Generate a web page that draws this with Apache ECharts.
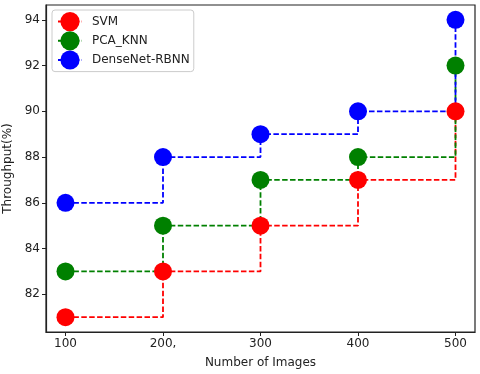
<!DOCTYPE html>
<html>
<head>
<meta charset="utf-8">
<script src="https://cdn.jsdelivr.net/npm/echarts@6/dist/echarts.min.js"></script>
<style>
  html, body { margin: 0; padding: 0; background: #fff; }
  #main { width: 480px; height: 374px; }
</style>
</head>
<body>
<div id="main"></div>
<script>
// data
var xValues = [100, 200, 300, 400, 500];
var xTickLabels = ["100", "200,", "300", "400", "500"];
var yTicks = [82, 84, 86, 88, 90, 92, 94];
var svm = [81, 83, 85, 87, 90];
var pcaKnn = [83, 85, 87, 88, 92];
var denseNet = [86, 88, 89, 90, 94];

function pairs(ys) {
  return xValues.map(function (x, i) { return [x, ys[i]]; });
}

function stepSeries(name, ys, color) {
  return {
    name: name,
    type: "line",
    step: "end",
    data: pairs(ys),
    symbol: "circle",
    symbolSize: 18,
    color: color,
    itemStyle: { color: color },
    lineStyle: { color: color, width: 1.8, type: [5.5, 2.4] },
    animation: false
  };
}

var font = "DejaVu Sans";
var options = {
  backgroundColor: "#fff",
  textStyle: { fontFamily: font },
  grid: {
    left: 46, right: 5, top: 5, bottom: 42,
    outerBoundsMode: "none", containLabel: false,
    show: true, borderColor: "#222", borderWidth: 1.2
  },
  legend: {
    left: 52, top: 10,
    orient: "vertical",
    padding: [2, 4, 2, 5],
    itemGap: 0,
    itemWidth: 24,
    itemHeight: 24,
    borderColor: "#ccc",
    borderWidth: 1,
    borderRadius: 3,
    backgroundColor: "rgba(255,255,255,0.8)",
    textStyle: { fontFamily: font, fontSize: 12, color: "#222", padding: [0, 0, 0, 5] },
    data: ["SVM", "PCA_KNN", "DenseNet-RBNN"]
  },
  xAxis: {
    type: "value",
    min: 80, max: 520,
    name: "Number of Images",
    nameLocation: "middle",
    nameGap: 25,
    nameTextStyle: { fontFamily: font, fontSize: 12, color: "#222" },
    splitLine: { show: false },
    axisLine: { show: true, onZero: false, lineStyle: { color: "#222", width: 1.2 } },
    axisTick: { show: true, length: 4, customValues: xValues, lineStyle: { color: "#222" } },
    axisLabel: {
      customValues: xValues,
      fontFamily: font, fontSize: 12, color: "#222", margin: 6,
      formatter: function (v) { return xTickLabels[xValues.indexOf(v)]; }
    }
  },
  yAxis: {
    type: "value",
    min: 80.35, max: 94.65,
    name: "Throughput(%)",
    nameLocation: "middle",
    nameGap: 28,
    nameTextStyle: { fontFamily: font, fontSize: 12, color: "#222" },
    splitLine: { show: false },
    axisLine: { show: true, lineStyle: { color: "#222", width: 1.2 } },
    axisTick: { show: true, length: 4, customValues: yTicks, lineStyle: { color: "#222" } },
    axisLabel: { customValues: yTicks, fontFamily: font, fontSize: 12, color: "#222", margin: 6 }
  },
  series: [
    stepSeries("SVM", svm, "#ff0000"),
    stepSeries("PCA_KNN", pcaKnn, "#008000"),
    stepSeries("DenseNet-RBNN", denseNet, "#0000ff")
  ]
};

var chart = echarts.init(document.getElementById("main"));
chart.setOption(options);
</script>
</body>
</html>
